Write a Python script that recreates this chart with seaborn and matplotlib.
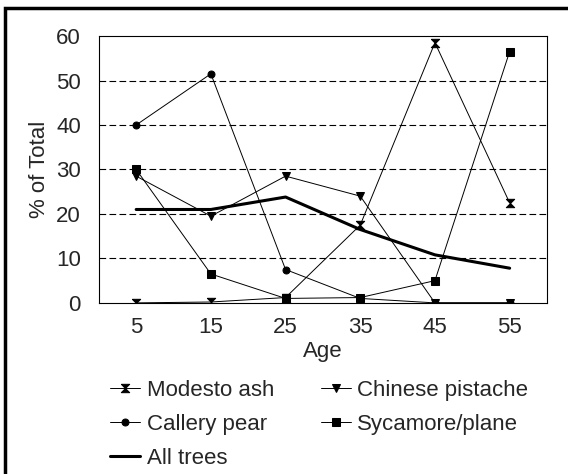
import numpy as np
import pandas as pd
import matplotlib
matplotlib.use("Agg")
import matplotlib.pyplot as plt
import seaborn as sns
from matplotlib.patches import Rectangle

ages = [5, 15, 25, 35, 45, 55]
modesto_ash = [0, 0.2, 1.2, 17.5, 58.5, 22.5]
chinese_pistache = [28.5, 19.5, 28.5, 24, 0, 0]
callery_pear = [40, 51.5, 7.5, 1, 0, 0]
sycamore_plane = [30, 6.5, 1, 1.2, 5, 56.5]
all_trees = [21, 21, 23.8, 16.5, 10.8, 7.8]

sns.set_style("white")
plt.rcParams["font.family"] = ["Liberation Sans", "DejaVu Sans"]

hourglass = [(-1, 1), (1, 1), (-1, -1), (1, -1), (-1, 1)]

fig = plt.figure(figsize=(5.68, 4.74), dpi=100)
ax = fig.add_axes([0.174, 0.361, 0.789, 0.563])

series = [
    ("Modesto ash", modesto_ash, hourglass, 6),
    ("Callery pear", callery_pear, "o", 5),
    ("All trees", all_trees, None, 0),
    ("Chinese pistache", chinese_pistache, "v", 6),
    ("Sycamore/plane", sycamore_plane, "s", 6),
]
for name, vals, mk, ms in series:
    if mk is None:
        sns.lineplot(x=ages, y=vals, ax=ax, color="black", lw=2.2, label=name)
    else:
        sns.lineplot(x=ages, y=vals, ax=ax, color="black", lw=0.7,
                     marker=mk, markersize=ms, markeredgecolor="black",
                     label=name)

ax.set_xlim(0, 60)
ax.set_ylim(0, 60)
ax.set_xticks(ages)
ax.set_yticks(range(0, 61, 10))
ax.set_yticks(range(5, 60, 10), minor=True)
ax.tick_params(axis="y", which="both", direction="inout", length=6,
               width=0.8, labelsize=16, pad=10)
ax.tick_params(axis="x", length=0, labelsize=16, pad=10)
for y in range(10, 60, 10):
    ax.axhline(y, color="black", lw=0.8, ls=(0, (6, 3)), zorder=0)
for s in ax.spines.values():
    s.set_linewidth(0.8)
    s.set_color("black")
ax.set_xlabel("Age", fontsize=16, labelpad=2)
ax.set_ylabel("% of Total", fontsize=16, labelpad=4)

leg = ax.legend(loc="upper left", bbox_to_anchor=(0.025, -0.288), ncol=2,
                frameon=False, fontsize=16, handlelength=1.35,
                columnspacing=2.1, labelspacing=0.58, handletextpad=0.3,
                borderaxespad=0, borderpad=0)

fig.patches.append(Rectangle((0.009, -0.05), 1.05, 1.033, transform=fig.transFigure,
                             fill=False, lw=2.5, ec="black"))

fig.savefig("out.png", dpi=100)
